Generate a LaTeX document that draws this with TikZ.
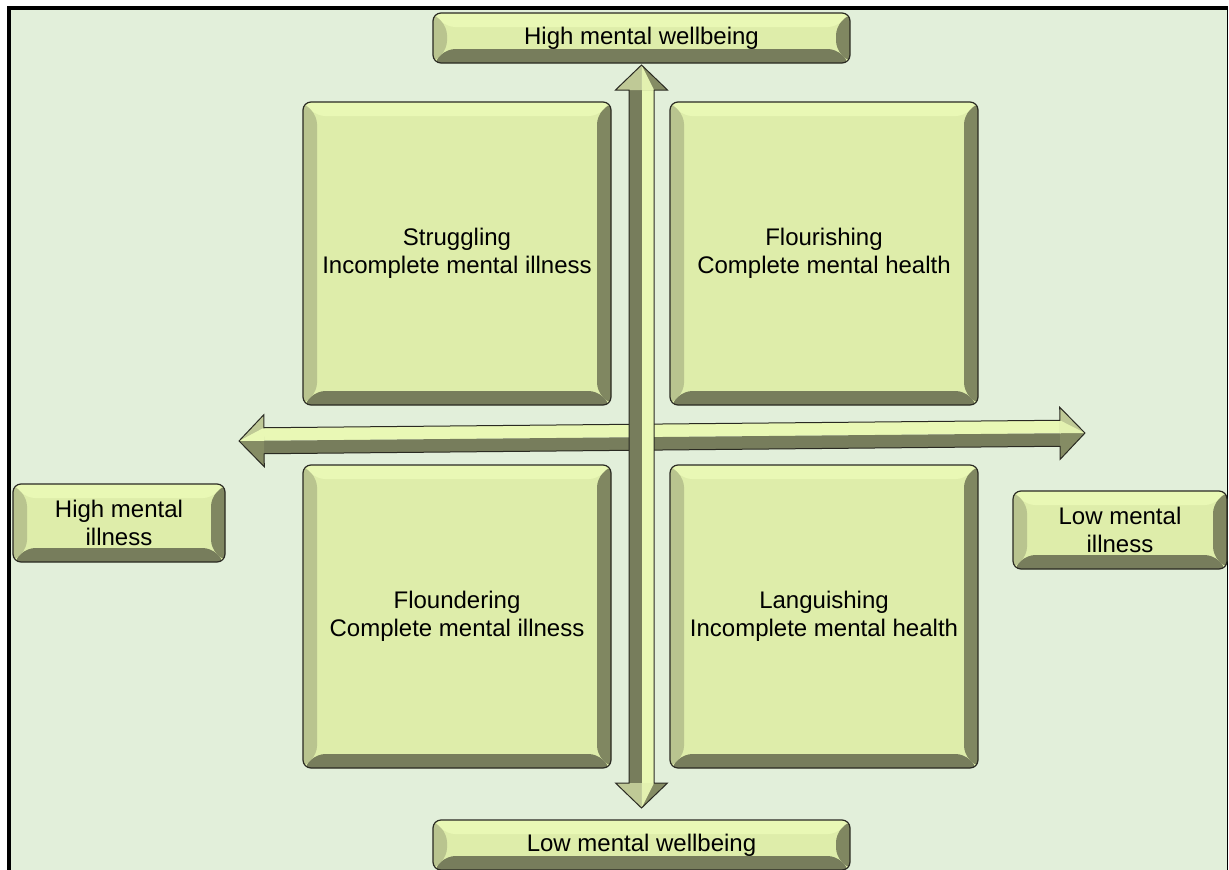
\documentclass[tikz,border=0pt]{standalone}
\usepackage{fontspec}
\setmainfont{Liberation Sans}
\usetikzlibrary{calc}
\definecolor{bg}{HTML}{E2EFDA}
\definecolor{face}{HTML}{DEEDAA}
\definecolor{bevT}{HTML}{E9F8B5}
\definecolor{bevL}{HTML}{B9C48F}
\definecolor{bevR}{HTML}{808761}
\definecolor{bevB}{HTML}{777D5C}
\definecolor{edge}{HTML}{2A2A22}
\definecolor{headL}{HTML}{BFC996}
\definecolor{headD}{HTML}{858C64}
\tikzset{
  bevelbox/.style={rounded corners=8pt, draw=edge, line width=1.2pt, fill=face,
    inner sep=0pt, align=center, font=\fontsize{24}{28}\selectfont,
    path picture={
      \fill[bevT] (path picture bounding box.north west) -- (path picture bounding box.north east)
        -- ([shift={(-14pt,-14pt)}]path picture bounding box.north east)
        -- ([shift={(14pt,-14pt)}]path picture bounding box.north west) -- cycle;
      \fill[bevL] (path picture bounding box.north west) -- ([shift={(14pt,-14pt)}]path picture bounding box.north west)
        -- ([shift={(14pt,14pt)}]path picture bounding box.south west)
        -- (path picture bounding box.south west) -- cycle;
      \fill[bevR] (path picture bounding box.north east) -- ([shift={(-14pt,-14pt)}]path picture bounding box.north east)
        -- ([shift={(-14pt,14pt)}]path picture bounding box.south east)
        -- (path picture bounding box.south east) -- cycle;
      \fill[bevB] (path picture bounding box.south west) -- (path picture bounding box.south east)
        -- ([shift={(-14pt,14pt)}]path picture bounding box.south east)
        -- ([shift={(14pt,14pt)}]path picture bounding box.south west) -- cycle;
    }},
  arrowedge/.style={draw=edge, line width=1pt, line join=miter}
}
\begin{document}
\begin{tikzpicture}[x=1pt,y=-1pt]
\useasboundingbox (0,0) rectangle (1229,870);
\fill[white] (0,0) rectangle (1229,870);
\fill[bg] (9,8) rectangle (1227.5,870);
\draw[black,line width=4pt] (9,870) -- (9,8) -- (1228,8);
\draw[black,line width=1pt] (1227.5,8) -- (1227.5,870);

% horizontal arrow
\begin{scope}[shift={(662,437)}, rotate=0.54]
  \coordinate (hleft) at (-423,0);
  \coordinate (hright) at (423,0);
  \fill[bevT] (-398,-13) rectangle (398,0);
  \fill[bevB] (-398,0) rectangle (398,13);
  \fill[headL] (hleft) -- (-398,-26) -- (-398,0) -- cycle;
  \fill[headD] (hleft) -- (-398,26) -- (-398,0) -- cycle;
  \fill[headL] (hright) -- (398,-26) -- (398,0) -- cycle;
  \fill[headD] (hright) -- (398,26) -- (398,0) -- cycle;
  \fill[bevT] (hleft) -- (-398,-13) -- (-398,0) -- cycle;
  \fill[bevT!85!headL] (hright) -- (398,-13) -- (398,0) -- cycle;
  \draw[arrowedge] (hleft) -- (-398,-26) -- (-398,-13) -- (398,-13) -- (398,-26) -- (hright)
     -- (398,26) -- (398,13) -- (-398,13) -- (-398,26) -- cycle;
\end{scope}

% vertical arrow
\begin{scope}[shift={(641.5,436.5)}]
  \coordinate (vtop) at (0,-371.5);
  \coordinate (vbot) at (0,371.5);
  \fill[bevB] (-12.5,-346.5) rectangle (0,346.5);
  \fill[bevT] (0,-346.5) rectangle (12.5,346.5);
  \fill[headL] (vtop) -- (-26,-346.5) -- (0,-346.5) -- cycle;
  \fill[headD] (vtop) -- (26,-346.5) -- (0,-346.5) -- cycle;
  \fill[headL] (vbot) -- (-26,346.5) -- (0,346.5) -- cycle;
  \fill[headD] (vbot) -- (26,346.5) -- (0,346.5) -- cycle;
  \fill[bevT!85!headL] (vtop) -- (0,-346.5) -- (12.5,-346.5) -- cycle;
  \fill[bevT!85!headL] (vbot) -- (0,346.5) -- (12.5,346.5) -- cycle;
  \draw[arrowedge] (vtop) -- (26,-346.5) -- (12.5,-346.5) -- (12.5,346.5) -- (26,346.5) -- (vbot)
     -- (-26,346.5) -- (-12.5,346.5) -- (-12.5,-346.5) -- (-26,-346.5) -- cycle;
\end{scope}

% boxes
\node[bevelbox, minimum width=417pt, minimum height=50pt] (top) at (641.5,38) {High mental wellbeing};
\node[bevelbox, minimum width=417pt, minimum height=50pt] (bottom) at (641.5,845) {Low mental wellbeing};
\node[bevelbox, minimum width=308pt, minimum height=303pt] (tl) at (457,253.5) {Struggling\\Incomplete mental illness};
\node[bevelbox, minimum width=308pt, minimum height=303pt] (tr) at (824,253.5) {Flourishing\\Complete mental health};
\node[bevelbox, minimum width=308pt, minimum height=303pt] (bl) at (457,616.5) {Floundering\\Complete mental illness};
\node[bevelbox, minimum width=308pt, minimum height=303pt] (br) at (824,616.5) {Languishing\\Incomplete mental health};
\node[bevelbox, minimum width=212pt, minimum height=78pt] (left) at (119,523) {High mental\\illness};
\node[bevelbox, minimum width=214pt, minimum height=78pt] (right) at (1120,530) {Low mental\\illness};
\end{tikzpicture}
\end{document}
